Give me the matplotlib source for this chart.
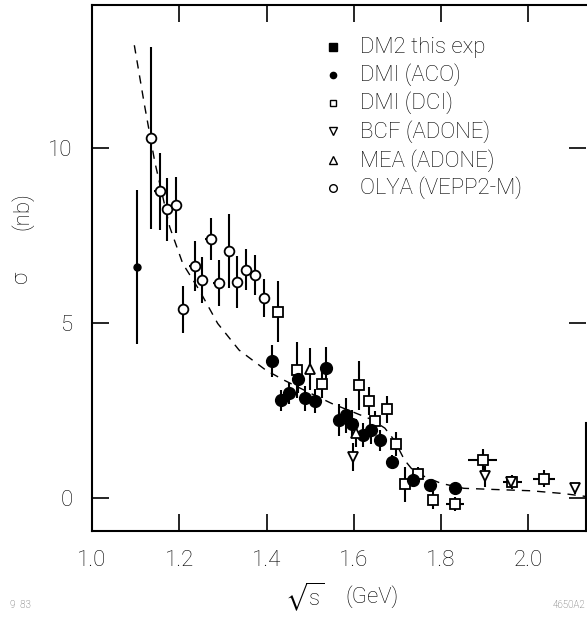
import numpy as np
import matplotlib
matplotlib.use('Agg')
import matplotlib.pyplot as plt

plt.rcParams['font.family'] = ['Roboto', 'DejaVu Sans']
plt.rcParams['font.weight'] = 'light'
plt.rcParams['mathtext.fontset'] = 'dejavusans'

# OLYA (VEPP2-M)
olya_x = [1.135, 1.155, 1.173, 1.193, 1.208, 1.235, 1.253, 1.272, 1.290, 1.314, 1.332, 1.354, 1.373, 1.394]
olya_y = [10.29, 8.77, 8.25, 8.38, 5.39, 6.63, 6.23, 7.39, 6.15, 7.06, 6.18, 6.53, 6.37, 5.72]
olya_err = [2.6, 1.1, 0.9, 0.8, 0.67, 0.72, 0.66, 0.6, 0.66, 1.07, 0.75, 0.58, 0.58, 0.55]

# DMI (ACO)
aco_x = [1.102]
aco_y = [6.59]
aco_err = [2.2]

# DMI (DCI)
dci_x = [1.426, 1.470, 1.527, 1.611, 1.634, 1.648, 1.675, 1.696, 1.718, 1.748, 1.782, 1.832, 1.895, 1.963, 2.036]
dci_y = [5.32, 3.66, 3.26, 3.23, 2.78, 2.20, 2.54, 1.54, 0.40, 0.69, -0.06, -0.17, 1.10, 0.47, 0.56]
dci_err = [0.87, 0.8, 0.4, 0.7, 0.4, 0.3, 0.38, 0.35, 0.5, 0.2, 0.25, 0.2, 0.3, 0.2, 0.25]
dci_xerr = [0.008, 0.008, 0.008, 0.008, 0.008, 0.008, 0.008, 0.008, 0.008, 0.008, 0.01, 0.02, 0.034, 0.022, 0.025]

# DM2 this exp
dm2_x = [1.413, 1.432, 1.451, 1.471, 1.489, 1.510, 1.536, 1.565, 1.583, 1.595, 1.622, 1.639, 1.659, 1.688, 1.735, 1.775, 1.832]
dm2_y = [3.92, 2.80, 2.99, 3.39, 2.85, 2.78, 3.71, 2.23, 2.37, 2.13, 1.80, 1.94, 1.66, 1.04, 0.53, 0.37, 0.30]
dm2_err = [0.45, 0.3, 0.3, 0.4, 0.35, 0.35, 0.6, 0.45, 0.5, 0.4, 0.35, 0.4, 0.3, 0.2, 0.2, 0.15, 0.15]

# BCF (ADONE)
bcf_x = [1.599, 1.900, 1.959, 2.107]
bcf_y = [1.18, 0.62, 0.47, 0.28]
bcf_err = [0.4, 0.3, 0.15, 0.15]

# MEA (ADONE)
mea_x = [1.500, 1.606]
mea_y = [3.70, 1.85]
mea_err = [0.6, 0.4]

# dashed fit curve
fit_x = [1.097, 1.12, 1.144, 1.178, 1.208, 1.246, 1.288, 1.337, 1.398, 1.44, 1.50, 1.55,
         1.60, 1.64, 1.671, 1.693, 1.716, 1.735, 1.754, 1.80, 1.852, 1.914, 2.005, 2.08, 2.13]
fit_y = [12.94, 11.25, 9.6, 7.75, 6.7, 5.94, 4.99, 4.23, 3.66, 3.37, 3.0, 2.7,
         2.45, 2.25, 2.0, 1.65, 1.09, 0.8, 0.66, 0.42, 0.28, 0.25, 0.21, 0.13, 0.05]

fig = plt.figure(figsize=(5.87, 6.17), dpi=100)
ax = fig.add_axes([92/587, 1-531/617, 494/587, 526/617])

ax.plot(fit_x, fit_y, color='black', lw=1.0, ls=(0, (6, 5)), zorder=1)

ebkw = dict(ecolor='black', elinewidth=1.5, capsize=0, ls='none', zorder=2)
ax.errorbar(olya_x, olya_y, yerr=olya_err, xerr=0.012, fmt='o', ms=7, mfc='white',
            mec='black', mew=1.3, **ebkw)
ax.errorbar(aco_x, aco_y, yerr=aco_err, fmt='o', ms=5, mfc='black', mec='black', **ebkw)
ax.errorbar(dci_x, dci_y, yerr=dci_err, xerr=dci_xerr, fmt='s', ms=6.5, mfc='white',
            mec='black', mew=1.3, **ebkw)
ax.errorbar(dm2_x, dm2_y, yerr=dm2_err, xerr=0.01, fmt='o', ms=8.5, mfc='black',
            mec='black', **ebkw)
ax.errorbar(bcf_x, bcf_y, yerr=bcf_err, fmt='v', ms=7, mfc='white', mec='black',
            mew=1.3, **ebkw)
ax.errorbar(mea_x, mea_y, yerr=mea_err, fmt='^', ms=7, mfc='white', mec='black',
            mew=1.3, **ebkw)

ax.set_xlim(1.0077, 2.132)
ax.set_ylim(-0.94, 14.09)
ax.set_xticks([1.0, 1.2, 1.4, 1.6, 1.8, 2.0])
ax.set_xticklabels(['1.0', '1.2', '1.4', '1.6', '1.8', '2.0'])
ax.set_yticks([0, 5, 10])
ax.tick_params(direction='in', length=12, width=1.2, top=True, right=True,
               labelsize=16)
ax.tick_params(axis='x', pad=14)
ax.tick_params(axis='y', pad=14)
for s in ax.spines.values():
    s.set_linewidth(1.5)
ax.spines['right'].set_bounds(-0.94, 2.14)

# legend drawn by hand
leg_rows = [0.920, 0.867, 0.814, 0.760, 0.705, 0.652]
leg_labels = ['DM2 this exp', 'DMI (ACO)', 'DMI (DCI)', 'BCF (ADONE)', 'MEA (ADONE)', 'OLYA (VEPP2-M)']
leg_marks = [('s', 6, 'black'), ('o', 4.5, 'black'), ('s', 5, 'white'),
             ('v', 5.5, 'white'), ('^', 5.5, 'white'), ('o', 5.5, 'white')]
for yy, lab, (m, ms, fc) in zip(leg_rows, leg_labels, leg_marks):
    ax.plot([0.488], [yy], marker=m, ms=ms, mfc=fc, mec='black', mew=1.0,
            transform=ax.transAxes, clip_on=False)
    ax.text(0.5425, yy, lab, transform=ax.transAxes, fontsize=16, va='center', ha='left')

fig.text(22/587, 1-277/617, 'σ', rotation=90, fontsize=16, ha='center', va='center')
fig.text(22/587, 1-211/617, '(nb)', rotation=90, fontsize=16, ha='center', va='center')
fig.text(305/587, 1-597/617, r'$\sqrt{\mathregular{s}}$', fontsize=16, ha='center', va='center')
fig.text(372/587, 1-597/617, '(GeV)', fontsize=16, ha='center', va='center')
fig.text(10/587, 1-605/617, '9  83', fontsize=7, color='#555555', ha='left', va='center')
fig.text(585/587, 1-605/617, '4650A2', fontsize=7, color='#555555', ha='right', va='center')

fig.savefig('out.png', dpi=100)
